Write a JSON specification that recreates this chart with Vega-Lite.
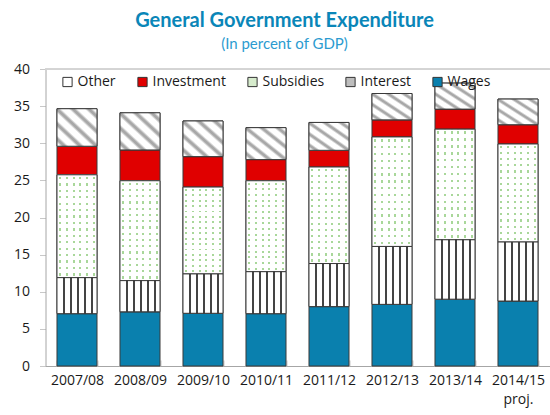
{
  "$schema": "https://vega.github.io/schema/vega-lite/v6.json",
  "width": 504,
  "height": 297,
  "autosize": {"type": "none"},
  "padding": {"left": 45.5, "top": 69, "right": 0.5, "bottom": 49},
  "background": "white",
  "config": {
    "font": "Open Sans",
    "view": {"stroke": null}
  },
  "title": {
    "text": "General Government Expenditure",
    "subtitle": "(In percent of GDP)",
    "font": "Lato",
    "fontSize": 20,
    "fontWeight": "bold",
    "color": "#0a86b8",
    "subtitleFont": "Lato",
    "subtitleFontSize": 15,
    "subtitleColor": "#2b9bd0",
    "subtitlePadding": 6,
    "anchor": "middle",
    "frame": "group",
    "dx": -13,
    "offset": 10
  },
  "data": {
    "values": [
      {"year": "2007/08", "series": "Wages", "order": 1, "value": 7.05},
      {"year": "2007/08", "series": "Interest", "order": 2, "value": 4.85},
      {"year": "2007/08", "series": "Subsidies", "order": 3, "value": 13.85},
      {"year": "2007/08", "series": "Investment", "order": 4, "value": 3.85},
      {"year": "2007/08", "series": "Other", "order": 5, "value": 5.05},
      {"year": "2008/09", "series": "Wages", "order": 1, "value": 7.3},
      {"year": "2008/09", "series": "Interest", "order": 2, "value": 4.2},
      {"year": "2008/09", "series": "Subsidies", "order": 3, "value": 13.45},
      {"year": "2008/09", "series": "Investment", "order": 4, "value": 4.15},
      {"year": "2008/09", "series": "Other", "order": 5, "value": 5.0},
      {"year": "2009/10", "series": "Wages", "order": 1, "value": 7.1},
      {"year": "2009/10", "series": "Interest", "order": 2, "value": 5.3},
      {"year": "2009/10", "series": "Subsidies", "order": 3, "value": 11.7},
      {"year": "2009/10", "series": "Investment", "order": 4, "value": 4.1},
      {"year": "2009/10", "series": "Other", "order": 5, "value": 4.8},
      {"year": "2010/11", "series": "Wages", "order": 1, "value": 7.05},
      {"year": "2010/11", "series": "Interest", "order": 2, "value": 5.65},
      {"year": "2010/11", "series": "Subsidies", "order": 3, "value": 12.25},
      {"year": "2010/11", "series": "Investment", "order": 4, "value": 2.85},
      {"year": "2010/11", "series": "Other", "order": 5, "value": 4.3},
      {"year": "2011/12", "series": "Wages", "order": 1, "value": 8.0},
      {"year": "2011/12", "series": "Interest", "order": 2, "value": 5.8},
      {"year": "2011/12", "series": "Subsidies", "order": 3, "value": 13.0},
      {"year": "2011/12", "series": "Investment", "order": 4, "value": 2.25},
      {"year": "2011/12", "series": "Other", "order": 5, "value": 3.75},
      {"year": "2012/13", "series": "Wages", "order": 1, "value": 8.3},
      {"year": "2012/13", "series": "Interest", "order": 2, "value": 7.8},
      {"year": "2012/13", "series": "Subsidies", "order": 3, "value": 14.75},
      {"year": "2012/13", "series": "Investment", "order": 4, "value": 2.3},
      {"year": "2012/13", "series": "Other", "order": 5, "value": 3.55},
      {"year": "2013/14", "series": "Wages", "order": 1, "value": 9.0},
      {"year": "2013/14", "series": "Interest", "order": 2, "value": 8.0},
      {"year": "2013/14", "series": "Subsidies", "order": 3, "value": 14.9},
      {"year": "2013/14", "series": "Investment", "order": 4, "value": 2.7},
      {"year": "2013/14", "series": "Other", "order": 5, "value": 3.5},
      {"year": "2014/15", "series": "Wages", "order": 1, "value": 8.75},
      {"year": "2014/15", "series": "Interest", "order": 2, "value": 7.95},
      {"year": "2014/15", "series": "Subsidies", "order": 3, "value": 13.2},
      {"year": "2014/15", "series": "Investment", "order": 4, "value": 2.6},
      {"year": "2014/15", "series": "Other", "order": 5, "value": 3.45}
    ]
  },
  "transform": [
    {"stack": "value", "groupby": ["year"], "sort": [{"field": "order", "order": "ascending"}], "as": ["y0", "y1"]}
  ],
  "encoding": {
    "x": {
      "field": "year",
      "type": "nominal",
      "sort": null,
      "scale": {"paddingInner": 0.365, "paddingOuter": 0.1825},
      "axis": {
        "title": null,
        "labelAngle": 0,
        "labelFontSize": 14,
        "labelColor": "#1a1a1a",
        "labelPadding": 13,
        "labelLineHeight": 19,
        "labelExpr": "datum.value == '2014/15' ? ['2014/15', 'proj.'] : datum.value",
        "tickBand": "extent",
        "tickSize": -6,
        "tickColor": "#c8c8c8",
        "domainColor": "#a6a6a6",
        "grid": false
      }
    },
    "y": {
      "field": "y0",
      "type": "quantitative",
      "scale": {"domain": [0, 40], "nice": false},
      "axis": {
        "title": null,
        "values": [0, 5, 10, 15, 20, 25, 30, 35, 40],
        "labelFontSize": 14,
        "labelColor": "#1a1a1a",
        "labelPadding": 10,
        "tickSize": 6,
        "tickColor": "#c8c8c8",
        "domainColor": "#a6a6a6",
        "grid": false
      }
    },
    "y2": {"field": "y1"}
  },
  "layer": [
    {
      "mark": {"type": "rule", "color": "#d4d4d4", "strokeWidth": 1},
      "encoding": {"y": {"datum": 40}, "x": null, "y2": null}
    },
    {
      "mark": {"type": "bar", "stroke": "#3a3a3a", "strokeWidth": 1},
      "encoding": {
        "color": {
          "field": "series",
          "type": "nominal",
          "scale": {
            "domain": ["Other", "Investment", "Subsidies", "Interest", "Wages"],
            "range": ["#ffffff", "#e00000", "#d6ebcc", "#bdbdbd", "#0a80ae"]
          },
          "legend": {
            "orient": "none",
            "legendX": 15,
            "legendY": 6,
            "direction": "horizontal",
            "title": null,
            "padding": 0,
            "gridAlign": "none",
            "symbolType": "square",
            "symbolSize": 85,
            "symbolStrokeColor": "#333333",
            "symbolStrokeWidth": 1,
            "symbolOpacity": 1,
            "labelFontSize": 14,
            "labelColor": "#1a1a1a",
            "labelOffset": 3,
            "columnPadding": 19
          }
        }
      }
    },
    {
      "transform": [{"filter": "datum.series == 'Subsidies'"}],
      "mark": {
        "type": "bar",
        "strokeWidth": 0,
        "fill": {
          "gradient": "linear",
          "x1": 0, "y1": 0, "x2": 1, "y2": 0,
          "stops": [
            {"offset": 0, "color": "#ffffff"},
            {"offset": 0.06, "color": "#ffffff"},
            {"offset": 0.06, "color": "#a9d79a"},
            {"offset": 0.11, "color": "#a9d79a"},
            {"offset": 0.11, "color": "#ffffff"},
            {"offset": 0.225, "color": "#ffffff"},
            {"offset": 0.225, "color": "#a9d79a"},
            {"offset": 0.275, "color": "#a9d79a"},
            {"offset": 0.275, "color": "#ffffff"},
            {"offset": 0.39, "color": "#ffffff"},
            {"offset": 0.39, "color": "#a9d79a"},
            {"offset": 0.44, "color": "#a9d79a"},
            {"offset": 0.44, "color": "#ffffff"},
            {"offset": 0.56, "color": "#ffffff"},
            {"offset": 0.56, "color": "#a9d79a"},
            {"offset": 0.61, "color": "#a9d79a"},
            {"offset": 0.61, "color": "#ffffff"},
            {"offset": 0.725, "color": "#ffffff"},
            {"offset": 0.725, "color": "#a9d79a"},
            {"offset": 0.775, "color": "#a9d79a"},
            {"offset": 0.775, "color": "#ffffff"},
            {"offset": 0.89, "color": "#ffffff"},
            {"offset": 0.89, "color": "#a9d79a"},
            {"offset": 0.94, "color": "#a9d79a"},
            {"offset": 0.94, "color": "#ffffff"},
            {"offset": 1, "color": "#ffffff"}
          ]
        }
      },
      "encoding": {}
    },
    {
      "transform": [{"filter": "datum.series == 'Subsidies'"}],
      "mark": {
        "type": "bar",
        "stroke": "#3a3a3a",
        "strokeWidth": 1,
        "fill": {
          "gradient": "linear",
          "x1": 0, "y1": 0, "x2": 0, "y2": 1,
          "stops": [
            {"offset": 0, "color": "rgba(255,255,255,1)"},
            {"offset": 0.02, "color": "rgba(255,255,255,1)"},
            {"offset": 0.02, "color": "rgba(255,255,255,0)"},
            {"offset": 0.042, "color": "rgba(255,255,255,0)"},
            {"offset": 0.042, "color": "rgba(255,255,255,1)"},
            {"offset": 0.0825, "color": "rgba(255,255,255,1)"},
            {"offset": 0.0825, "color": "rgba(255,255,255,0)"},
            {"offset": 0.1045, "color": "rgba(255,255,255,0)"},
            {"offset": 0.1045, "color": "rgba(255,255,255,1)"},
            {"offset": 0.145, "color": "rgba(255,255,255,1)"},
            {"offset": 0.145, "color": "rgba(255,255,255,0)"},
            {"offset": 0.167, "color": "rgba(255,255,255,0)"},
            {"offset": 0.167, "color": "rgba(255,255,255,1)"},
            {"offset": 0.2075, "color": "rgba(255,255,255,1)"},
            {"offset": 0.2075, "color": "rgba(255,255,255,0)"},
            {"offset": 0.2295, "color": "rgba(255,255,255,0)"},
            {"offset": 0.2295, "color": "rgba(255,255,255,1)"},
            {"offset": 0.27, "color": "rgba(255,255,255,1)"},
            {"offset": 0.27, "color": "rgba(255,255,255,0)"},
            {"offset": 0.292, "color": "rgba(255,255,255,0)"},
            {"offset": 0.292, "color": "rgba(255,255,255,1)"},
            {"offset": 0.3325, "color": "rgba(255,255,255,1)"},
            {"offset": 0.3325, "color": "rgba(255,255,255,0)"},
            {"offset": 0.3545, "color": "rgba(255,255,255,0)"},
            {"offset": 0.3545, "color": "rgba(255,255,255,1)"},
            {"offset": 0.395, "color": "rgba(255,255,255,1)"},
            {"offset": 0.395, "color": "rgba(255,255,255,0)"},
            {"offset": 0.417, "color": "rgba(255,255,255,0)"},
            {"offset": 0.417, "color": "rgba(255,255,255,1)"},
            {"offset": 0.4575, "color": "rgba(255,255,255,1)"},
            {"offset": 0.4575, "color": "rgba(255,255,255,0)"},
            {"offset": 0.4795, "color": "rgba(255,255,255,0)"},
            {"offset": 0.4795, "color": "rgba(255,255,255,1)"},
            {"offset": 0.52, "color": "rgba(255,255,255,1)"},
            {"offset": 0.52, "color": "rgba(255,255,255,0)"},
            {"offset": 0.542, "color": "rgba(255,255,255,0)"},
            {"offset": 0.542, "color": "rgba(255,255,255,1)"},
            {"offset": 0.5825, "color": "rgba(255,255,255,1)"},
            {"offset": 0.5825, "color": "rgba(255,255,255,0)"},
            {"offset": 0.6045, "color": "rgba(255,255,255,0)"},
            {"offset": 0.6045, "color": "rgba(255,255,255,1)"},
            {"offset": 0.645, "color": "rgba(255,255,255,1)"},
            {"offset": 0.645, "color": "rgba(255,255,255,0)"},
            {"offset": 0.667, "color": "rgba(255,255,255,0)"},
            {"offset": 0.667, "color": "rgba(255,255,255,1)"},
            {"offset": 0.7075, "color": "rgba(255,255,255,1)"},
            {"offset": 0.7075, "color": "rgba(255,255,255,0)"},
            {"offset": 0.7295, "color": "rgba(255,255,255,0)"},
            {"offset": 0.7295, "color": "rgba(255,255,255,1)"},
            {"offset": 0.77, "color": "rgba(255,255,255,1)"},
            {"offset": 0.77, "color": "rgba(255,255,255,0)"},
            {"offset": 0.792, "color": "rgba(255,255,255,0)"},
            {"offset": 0.792, "color": "rgba(255,255,255,1)"},
            {"offset": 0.8325, "color": "rgba(255,255,255,1)"},
            {"offset": 0.8325, "color": "rgba(255,255,255,0)"},
            {"offset": 0.8545, "color": "rgba(255,255,255,0)"},
            {"offset": 0.8545, "color": "rgba(255,255,255,1)"},
            {"offset": 0.895, "color": "rgba(255,255,255,1)"},
            {"offset": 0.895, "color": "rgba(255,255,255,0)"},
            {"offset": 0.917, "color": "rgba(255,255,255,0)"},
            {"offset": 0.917, "color": "rgba(255,255,255,1)"},
            {"offset": 0.9575, "color": "rgba(255,255,255,1)"},
            {"offset": 0.9575, "color": "rgba(255,255,255,0)"},
            {"offset": 0.9795, "color": "rgba(255,255,255,0)"},
            {"offset": 0.9795, "color": "rgba(255,255,255,1)"},
            {"offset": 1, "color": "rgba(255,255,255,1)"}
          ]
        }
      },
      "encoding": {}
    },
    {
      "transform": [{"filter": "datum.series == 'Interest'"}],
      "mark": {
        "type": "bar",
        "stroke": "#3a3a3a",
        "strokeWidth": 1,
        "fill": {
          "gradient": "linear",
          "x1": 0, "y1": 0, "x2": 1, "y2": 0,
          "stops": [
            {"offset": 0, "color": "#ffffff"},
            {"offset": 0.145, "color": "#ffffff"},
            {"offset": 0.145, "color": "#444444"},
            {"offset": 0.195, "color": "#444444"},
            {"offset": 0.195, "color": "#ffffff"},
            {"offset": 0.32, "color": "#ffffff"},
            {"offset": 0.32, "color": "#444444"},
            {"offset": 0.37, "color": "#444444"},
            {"offset": 0.37, "color": "#ffffff"},
            {"offset": 0.495, "color": "#ffffff"},
            {"offset": 0.495, "color": "#444444"},
            {"offset": 0.545, "color": "#444444"},
            {"offset": 0.545, "color": "#ffffff"},
            {"offset": 0.67, "color": "#ffffff"},
            {"offset": 0.67, "color": "#444444"},
            {"offset": 0.72, "color": "#444444"},
            {"offset": 0.72, "color": "#ffffff"},
            {"offset": 0.845, "color": "#ffffff"},
            {"offset": 0.845, "color": "#444444"},
            {"offset": 0.895, "color": "#444444"},
            {"offset": 0.895, "color": "#ffffff"},
            {"offset": 1, "color": "#ffffff"}
          ]
        }
      },
      "encoding": {}
    },
    {
      "transform": [{"filter": "datum.series == 'Other'"}],
      "mark": {
        "type": "bar",
        "stroke": "#3a3a3a",
        "strokeWidth": 1,
        "fill": {
          "gradient": "linear",
          "x1": 0, "y1": 1, "x2": 1, "y2": 0,
          "stops": [
            {"offset": 0, "color": "#ffffff"},
            {"offset": 0.04, "color": "#ffffff"},
            {"offset": 0.08, "color": "#a8a8a8"},
            {"offset": 0.11, "color": "#a8a8a8"},
            {"offset": 0.15, "color": "#ffffff"},
            {"offset": 0.24, "color": "#ffffff"},
            {"offset": 0.28, "color": "#a8a8a8"},
            {"offset": 0.31, "color": "#a8a8a8"},
            {"offset": 0.35, "color": "#ffffff"},
            {"offset": 0.44, "color": "#ffffff"},
            {"offset": 0.48, "color": "#a8a8a8"},
            {"offset": 0.51, "color": "#a8a8a8"},
            {"offset": 0.55, "color": "#ffffff"},
            {"offset": 0.64, "color": "#ffffff"},
            {"offset": 0.68, "color": "#a8a8a8"},
            {"offset": 0.71, "color": "#a8a8a8"},
            {"offset": 0.75, "color": "#ffffff"},
            {"offset": 0.84, "color": "#ffffff"},
            {"offset": 0.88, "color": "#a8a8a8"},
            {"offset": 0.91, "color": "#a8a8a8"},
            {"offset": 0.95, "color": "#ffffff"},
            {"offset": 1, "color": "#ffffff"}
          ]
        }
      },
      "encoding": {}
    }
  ]
}
